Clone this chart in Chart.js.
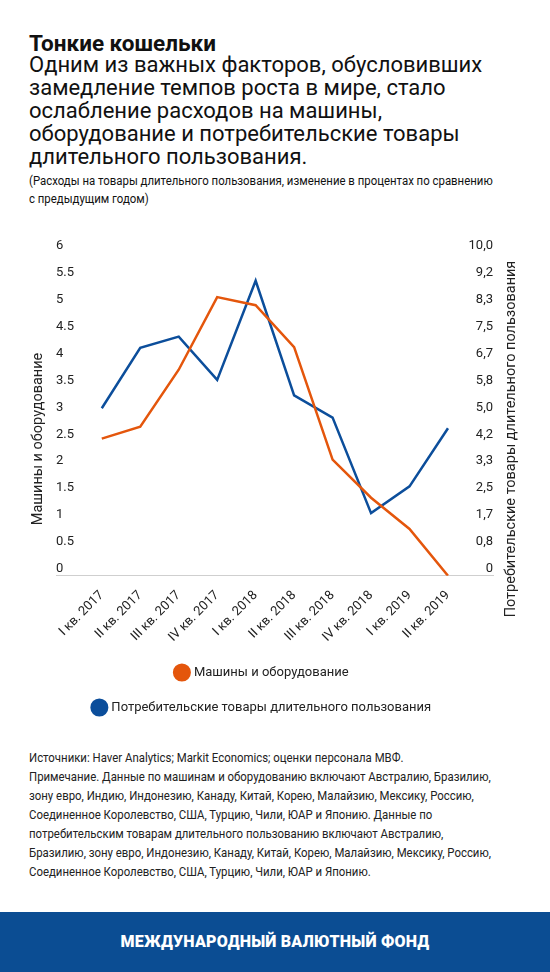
<!DOCTYPE html>
<html lang="ru">
<head>
<meta charset="utf-8">
<title>Тонкие кошельки</title>
<script src="https://cdn.jsdelivr.net/npm/chart.js"></script>
<style>
  html, body { margin: 0; padding: 0; background: #fff; }
  body { width: 550px; height: 972px; position: relative; overflow: hidden; font-family: Roboto, "Noto Sans", sans-serif; color: #111; }
  .head { position: absolute; left: 29px; top: 30px; width: 515px; white-space: nowrap; }
  .head h1 { margin: 0; font-size: 22.5px; line-height: 26px; font-weight: 700; }
  .head .sub { font-size: 22px; line-height: 23px; margin-top: -3px; }
  .head .unit { font-size: 12.5px; line-height: 18px; margin-top: 4px; transform: scaleX(0.912); transform-origin: 0 0; }
  .chart-box { position: absolute; left: 0; top: 225px; width: 550px; height: 510px; }
  .notes { position: absolute; left: 29px; top: 748px; white-space: nowrap; font-size: 13px; line-height: 19px; color: #222; transform: scaleX(0.877); transform-origin: 0 0; }
  .bar { position: absolute; left: 0; top: 912px; width: 550px; height: 60px; background: #0B4D93; color: #fff; text-align: center; font-weight: 900; font-size: 16px; line-height: 60px; letter-spacing: 0.2px; }
</style>
</head>
<body>
<div class="head">
  <h1>Тонкие кошельки</h1>
  <div class="sub">Одним из важных факторов, обусловивших<br>замедление темпов роста в мире, стало<br>ослабление расходов на машины,<br>оборудование и потребительские товары<br>длительного пользования.</div>
  <div class="unit">(Расходы на товары длительного пользования, изменение в процентах по сравнению<br>с предыдущим годом)</div>
</div>
<div class="chart-box"><canvas id="chart"></canvas></div>
<div class="notes">Источники: Haver Analytics; Markit Economics; оценки персонала МВФ.<br>Примечание. Данные по машинам и оборудованию включают Австралию, Бразилию,<br>зону евро, Индию, Индонезию, Канаду, Китай, Корею, Малайзию, Мексику, Россию,<br>Соединенное Королевство, США, Турцию, Чили, ЮАР и Японию. Данные по<br>потребительским товарам длительного пользованию включают Австралию,<br>Бразилию, зону евро, Индонезию, Канаду, Китай, Корею, Малайзию, Мексику, Россию,<br>Соединенное Королевство, США, Турцию, Чили, ЮАР и Японию.</div>
<div class="bar">МЕЖДУНАРОДНЫЙ ВАЛЮТНЫЙ ФОНД</div>

<script>
// quarters
const categories = [
  "I кв. 2017", "II кв. 2017", "III кв. 2017", "IV кв. 2017",
  "I кв. 2018", "II кв. 2018", "III кв. 2018", "IV кв. 2018",
  "I кв. 2019", "II кв. 2019",
];

// left axis
const machinery = [2.55, 2.77, 3.83, 5.18, 5.03, 4.25, 2.16, 1.45, 0.87, 0];
// right axis
const durables = [5.19, 7.06, 7.41, 6.07, 9.14, 5.59, 4.9, 1.94, 2.77, 4.57];

const leftTicks = [0, 0.5, 1, 1.5, 2, 2.5, 3, 3.5, 4, 4.5, 5, 5.5, 6];
const rightTickLabels = ["0", "0,8", "1,7", "2,5", "3,3", "4,2", "5,0", "5,8", "6,7", "7,5", "8,3", "9,2", "10,0"];
const rightMax = 10;

const seriesNames = ["Машины и оборудование", "Потребительские товары длительного пользования"];
const ORANGE = "#E4560C";
const BLUE = "#0C4E9B";

// titles are drawn by hand: both read bottom-to-top in the original
const axisTitles = {
  id: "axisTitles",
  afterLayout(chart) {
    // legend in the original sits a bit left of the plot centre
    chart.legend.left -= 12;
    chart.legend.right -= 12;
  },
  afterDraw(chart) {
    const ctx = chart.ctx;
    ctx.save();
    ctx.font = "14.5px Roboto";
    ctx.fillStyle = "#222";
    ctx.textAlign = "center";
    ctx.textBaseline = "middle";
    [[38.5, seriesNames[0]], [511, seriesNames[1]]].forEach(([x, t]) => {
      ctx.save();
      ctx.translate(x, 214);
      ctx.rotate(-Math.PI / 2);
      ctx.fillText(t, 0, 0);
      ctx.restore();
    });
    ctx.restore();
  },
};

const ctx = document.getElementById("chart").getContext("2d");
new Chart(ctx, {
  type: "line",
  data: {
    datasets: [
      {
        label: seriesNames[0],
        data: machinery.map((v, i) => ({ x: i, y: v })),
        borderColor: ORANGE,
        backgroundColor: ORANGE,
        borderWidth: 2.5,
        pointRadius: 0,
        tension: 0,
        yAxisID: "y",
      },
      {
        label: seriesNames[1],
        data: durables.map((v, i) => ({ x: i, y: v })),
        borderColor: BLUE,
        backgroundColor: BLUE,
        borderWidth: 2.5,
        pointRadius: 0,
        tension: 0,
        yAxisID: "y1",
      },
    ],
  },
  options: {
    responsive: true,
    maintainAspectRatio: false,
    animation: false,
    layout: { padding: { left: 56, right: 57, top: 28, bottom: 11 } },
    plugins: {
      tooltip: { enabled: false },
      legend: {
        position: "bottom",
        fullSize: false,
        labels: {
          usePointStyle: true,
          pointStyle: "circle",
          boxWidth: 11,
          boxHeight: 11,
          padding: 22,
          color: "#222",
          font: { family: "Roboto", size: 13 },
        },
      },
    },
    scales: {
      x: {
        type: "linear",
        min: -1.19,
        max: 10.17,
        afterBuildTicks: (axis) => {
          axis.ticks = categories.map((_, i) => ({ value: i }));
        },
        afterFit: (axis) => {
          axis.height -= 13;
        },
        grid: { display: false, drawTicks: false },
        border: { display: true, color: "#cfcfcf", width: 1 },
        ticks: {
          autoSkip: false,
          maxRotation: 45,
          minRotation: 45,
          padding: 12,
          color: "#222",
          font: { family: "Roboto", size: 13 },
          callback: (v) => categories[v],
        },
      },
      y: {
        position: "left",
        min: 0,
        max: 6,
        afterBuildTicks: (axis) => {
          axis.ticks = leftTicks.map((v) => ({ value: v }));
        },
        grid: { display: false, drawTicks: false },
        border: { display: false },
        ticks: {
          mirror: true,
          padding: 0,
          labelOffset: -7,
          color: "#222",
          font: { family: "Roboto", size: 13 },
          callback: (v) => String(v),
        },
      },
      y1: {
        position: "right",
        min: 0,
        max: rightMax,
        afterBuildTicks: (axis) => {
          axis.ticks = rightTickLabels.map((_, i) => ({ value: (i * rightMax) / (rightTickLabels.length - 1) }));
        },
        grid: { display: false, drawTicks: false },
        border: { display: false },
        ticks: {
          mirror: true,
          padding: 0,
          labelOffset: -7,
          color: "#222",
          font: { family: "Roboto", size: 13 },
          callback: (v, i) => rightTickLabels[i],
        },
      },
    },
  },
  plugins: [axisTitles],
});
</script>
</body>
</html>
